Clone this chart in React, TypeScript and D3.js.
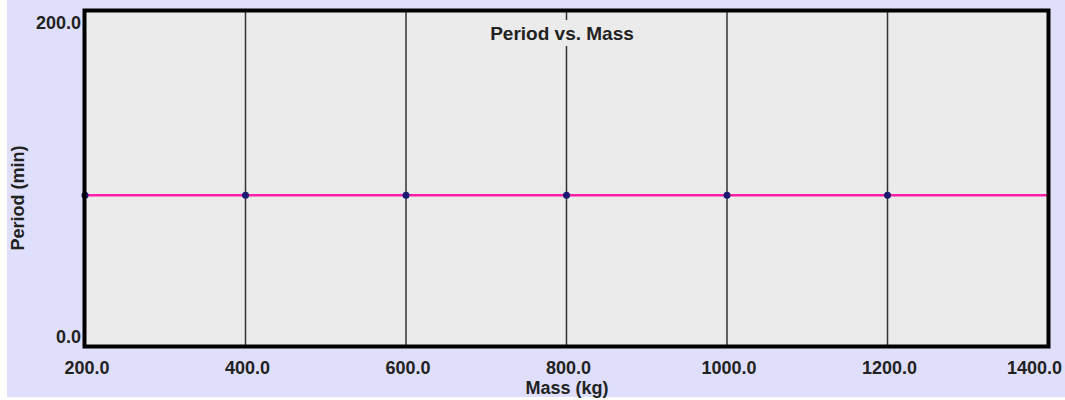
import React from "react";
import * as d3 from "d3";

const masses = [200, 400, 600, 800, 1000, 1200];
const periods = [90, 90, 90, 90, 90, 90];
const xTicks = [200, 400, 600, 800, 1000, 1200, 1400];
const yTicks = [0, 200];
const title = "Period vs. Mass";
const xLabel = "Mass (kg)";
const yLabel = "Period (min)";

export default function App() {
  const W = 1065, H = 400;
  const left = 85, right = 1048, top = 11, bottom = 346;
  const x = d3.scaleLinear().domain([200, 1400]).range([left, right]);
  const y = d3.scaleLinear().domain([0, 200]).range([bottom, top]);
  const pts = masses.map((m, i) => [m, periods[i]] as [number, number]);
  const linePts = [...pts, [1400, periods[periods.length - 1]] as [number, number]];
  const line = d3.line<[number, number]>().x(d => x(d[0])).y(d => y(d[1]));
  const font = "Arial, 'Liberation Sans', sans-serif";
  const fs = 18;
  return (
    <svg width={W} height={H} style={{ position: "absolute", left: 0, top: 0 }}>
      <rect x={7} y={0} width={W - 7} height={397} fill="#dfdffb" />
      <rect x={left} y={top} width={right - left} height={bottom - top} fill="#ebebeb" />
      {xTicks.slice(1, -1).map(t => (
        <line key={t} x1={x(t)} x2={x(t)} y1={top} y2={bottom} stroke="#333" strokeWidth={1.5} />
      ))}
      <rect x={482} y={20} width={164} height={26} fill="#ebebeb" />
      <text x={562} y={40} textAnchor="middle" fontFamily={font} fontWeight="bold" fontSize={19} fill="#222">{title}</text>
      <path d={line(linePts) || ""} fill="none" stroke="#ff20a8" strokeWidth={2.5} />
      {pts.map(d => (
        <circle key={d[0]} cx={x(d[0])} cy={y(d[1])} r={3.5} fill="#1a1a70" />
      ))}
      <rect x={left - 1} y={top - 1} width={right - left + 2} height={bottom - top + 2} fill="none" stroke="#555" strokeWidth={1} />
      <rect x={left - 0.5} y={top - 0.5} width={right - left + 1} height={bottom - top + 1} fill="none" stroke="#000" strokeWidth={4} />
      {yTicks.map(t => (
        <text key={t} x={81} y={y(t) + (t === 0 ? -3 : 18)} textAnchor="end" fontFamily={font} fontWeight="bold" fontSize={fs} fill="#222">{t.toFixed(1)}</text>
      ))}
      {xTicks.map(t => (
        <text key={t} x={t === 1400 ? 1062 : x(t) + 2} y={374} textAnchor={t === 1400 ? "end" : "middle"} fontFamily={font} fontWeight="bold" fontSize={fs} fill="#222">{t.toFixed(1)}</text>
      ))}
      <text x={567} y={394} textAnchor="middle" fontFamily={font} fontWeight="bold" fontSize={fs} fill="#222">{xLabel}</text>
      <text transform="translate(24,198) rotate(-90)" textAnchor="middle" fontFamily={font} fontWeight="bold" fontSize={fs} fill="#222">{yLabel}</text>
    </svg>
  );
}
